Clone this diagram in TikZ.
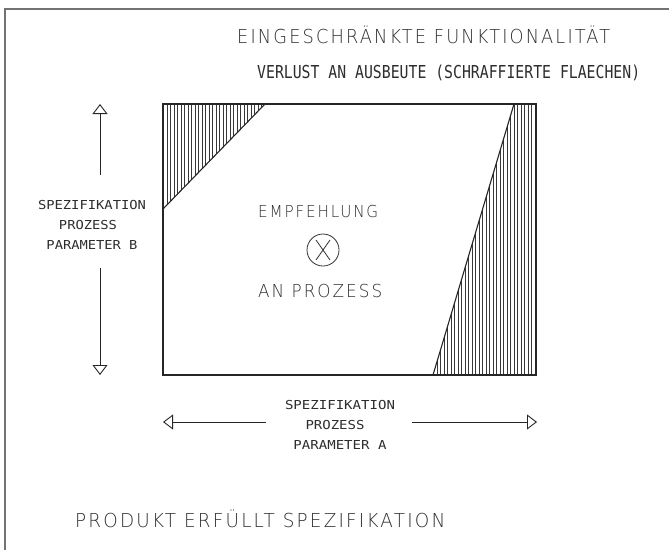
\documentclass[tikz,border=0pt]{standalone}
\usepackage{fontspec}
\usepackage{graphicx}
\usetikzlibrary{arrows.meta}
\newfontfamily\thinfont[LetterSpace=12]{DejaVu Sans ExtraLight}
\newfontfamily\monofont{DejaVu Sans Mono}
\newcommand\fitbox[4]{\resizebox{#2}{#3}{#1\smash{#4}\vphantom{E}}}
\begin{document}
\begin{tikzpicture}[x=1pt,y=-1pt,
  txt/.style={inner sep=0pt, text=black!82},
  edge/.style={line width=1.1pt, draw=black!85},
  hatch/.style={line width=0.65pt, draw=black!78},
  arr/.style={line width=0.9pt, draw=black!85, -{Triangle[open,length=10pt,width=15pt,line width=0.9pt]}},
  frame/.style={line width=1.2pt, draw=black!55},
  thinline/.style={line width=0.8pt, draw=black!80}]
\useasboundingbox (0,0) rectangle (669,550);
\fill[white] (0,0) rectangle (669,550);
\draw[frame] (5,550) -- (5,9) -- (669,9);

% corner coordinates
\coordinate (rTL) at (163,104);
\coordinate (rBR) at (536,375);
\coordinate (tA) at (265,104);
\coordinate (tB) at (163,209);
\coordinate (uA) at (514,104);
\coordinate (uB) at (433,375);

% hatching
\begin{scope}
\clip (163,104) -- (265,104) -- (163,209) -- cycle;
\foreach \x in {163.8,167.3,...,266} \draw[hatch] (\x,100) -- (\x,215);
\end{scope}
\begin{scope}
\clip (514,104) -- (536,104) -- (536,375) -- (433,375) -- cycle;
\foreach \x in {433.8,437.3,...,537} \draw[hatch] (\x,100) -- (\x,380);
\end{scope}

\draw[edge] (rTL) rectangle (rBR);
\draw[edge] (tA) -- (tB);
\draw[edge] (uA) -- (uB);

% titles
\node[txt, anchor=south west] (title) at (237,44)
  {\fitbox{\thinfont}{373pt}{14pt}{EINGESCHRÄNKTE FUNKTIONALITÄT}};
\node[txt, anchor=south west] (sub) at (257,79)
  {\fitbox{\monofont}{383pt}{13pt}{VERLUST AN AUSBEUTE (SCHRAFFIERTE FLAECHEN)}};

% parameter B
\node[txt, anchor=south] (b1) at (92,210) {\fitbox{\monofont}{108pt}{9pt}{SPEZIFIKATION}};
\node[txt, anchor=south] (b2) at (88,230) {\fitbox{\monofont}{58pt}{9pt}{PROZESS}};
\node[txt, anchor=south] (b3) at (92,250) {\fitbox{\monofont}{91pt}{9pt}{PARAMETER B}};
\coordinate (bTop) at (100,104);
\coordinate (bUp) at (100,175);
\coordinate (bLow) at (100,268);
\coordinate (bBot) at (100,375);
\draw[arr] (bUp) -- (bTop);
\draw[arr] (bLow) -- (bBot);

% parameter A
\node[txt, anchor=south] (a1) at (340,410) {\fitbox{\monofont}{110pt}{9pt}{SPEZIFIKATION}};
\node[txt, anchor=south] (a2) at (335,430) {\fitbox{\monofont}{59pt}{9pt}{PROZESS}};
\node[txt, anchor=south] (a3) at (340,450) {\fitbox{\monofont}{93pt}{9pt}{PARAMETER A}};
\coordinate (aL) at (163,422);
\coordinate (aLe) at (266,422);
\coordinate (aRs) at (412,422);
\coordinate (aR) at (537,422);
\draw[arr] (aLe) -- (aL);
\draw[arr] (aRs) -- (aR);

% recommendation
\node[txt, anchor=south west] (emp) at (258,218) {\fitbox{\thinfont}{120pt}{12pt}{EMPFEHLUNG}};
\node[circle, draw=black!80, line width=0.8pt, minimum size=32pt, inner sep=0pt] (cx) at (323,250) {};
\draw[thinline] ([xshift=-7pt,yshift=10pt]cx.center) -- ([xshift=7pt,yshift=-10pt]cx.center);
\draw[thinline] ([xshift=7pt,yshift=10pt]cx.center) -- ([xshift=-7pt,yshift=-10pt]cx.center);
\node[txt, anchor=south west] (anp) at (258,298) {\fitbox{\thinfont}{124pt}{13pt}{AN PROZESS}};

% bottom
\node[txt, anchor=south west] (prod) at (75,528)
  {\fitbox{\thinfont}{370pt}{14pt}{PRODUKT ERFÜLLT SPEZIFIKATION}};
\end{tikzpicture}
\end{document}
